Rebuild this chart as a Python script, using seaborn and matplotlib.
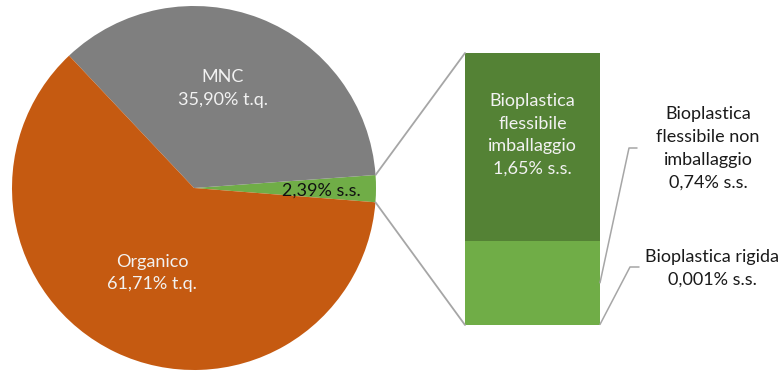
import numpy as np
import matplotlib
matplotlib.use("Agg")
import matplotlib.pyplot as plt
from matplotlib.patches import ConnectionPatch
from matplotlib.lines import Line2D
import seaborn as sns

# Pie: overall composition
pie_labels = ["Bioplastica", "MNC", "Organico"]
pie_values = [2.39, 35.90, 61.71]
pie_texts = ["2,39% s.s.", "MNC\n35,90% t.q.", "Organico\n61,71% t.q."]
pie_colors = ["#70AD47", "#7F7F7F", "#C55A11"]

# Bar: breakdown of the bioplastic share (bottom to top)
bar_labels = ["Bioplastica rigida", "Bioplastica flessibile non imballaggio",
              "Bioplastica flessibile imballaggio"]
bar_values = [0.001, 0.74, 1.65]
bar_texts = ["Bioplastica rigida\n0,001% s.s.",
             "Bioplastica\nflessibile non\nimballaggio\n0,74% s.s.",
             "Bioplastica\nflessibile\nimballaggio\n1,65% s.s."]
bar_colors = ["#A9D18E", "#70AD47", "#548235"]

sns.set_theme(style="white")
plt.rcParams["font.family"] = ["Lato", "DejaVu Sans"]

FS = 13
LS = 1.52

W, H = 782, 372
fig = plt.figure(figsize=(W / 100, H / 100), dpi=100)
fig.patch.set_facecolor("white")

def px_axes(x0, y0, x1, y1):
    """Axes from pixel box (top-left origin)."""
    return fig.add_axes([x0 / W, 1 - y1 / H, (x1 - x0) / W, (y1 - y0) / H])

# ---- pie ----
cx, cy, r = 194, 188, 182
ax_pie = px_axes(cx - r, cy - r, cx + r, cy + r)
green_share = pie_values[0] / sum(pie_values) * 360
wedges, _ = ax_pie.pie(pie_values, colors=pie_colors, startangle=-green_share / 2 - 0.2,
                       counterclock=True, radius=1.0,
                       wedgeprops=dict(linewidth=0))
ax_pie.set_xlim(-1, 1)
ax_pie.set_ylim(-1, 1)
ax_pie.set_aspect("auto")
ax_pie.axis("off")

# label placement (radius fraction, angle offset from wedge middle)
label_pos = [(0.70, -1.0), (0.57, 5.2), (0.52, -0.5)]
label_cols = ["#111111", "#F2F2F2", "#F2F2F2"]
for w, txt, (rf, da), col in zip(wedges, pie_texts, label_pos, label_cols):
    ang = np.deg2rad((w.theta1 + w.theta2) / 2 + da)
    ax_pie.text(rf * np.cos(ang), rf * np.sin(ang), txt, ha="center", va="center",
                color=col, fontsize=FS, linespacing=LS)

# ---- stacked bar ----
ax_bar = px_axes(465, 53, 600, 325)
bottom = 0.0
for val, col in zip(bar_values, bar_colors):
    ax_bar.bar(0, val, width=1.0, bottom=bottom, color=col, linewidth=0)
    bottom += val
total = sum(bar_values)
ax_bar.set_xlim(-0.5, 0.5)
ax_bar.set_ylim(0, total)
ax_bar.axis("off")

ax_bar.text(0, total - bar_values[2] / 2 + 0.105, bar_texts[2], ha="center", va="center",
            color="#F2F2F2", fontsize=FS, linespacing=LS)

# ---- connectors between the green wedge and the bar ----
gw = wedges[0]
line_col = "#A6A6A6"
for theta, ybar in [(gw.theta2, total), (gw.theta1, 0.0)]:
    t = np.deg2rad(theta)
    con = ConnectionPatch(xyA=(np.cos(t), np.sin(t)), coordsA=ax_pie.transData,
                          xyB=(-0.5, ybar), coordsB=ax_bar.transData,
                          color=line_col, lw=1.3)
    fig.add_artist(con)

# ---- leader lines and outside labels ----
def to_px(ax, x, y):
    return ax.transData.transform((x, y))

leaders = [
    (bar_values[0] + bar_values[1] / 2, (629, 148), (637, 148), (708, 148.5), bar_texts[1]),
    (0.005, (630, 267), (639, 267), (712, 268.5), bar_texts[0]),
]
for yv, elbow, end, tpos, txt in leaders:
    sx, sy = to_px(ax_bar, 0.5, yv)
    ex, ey = elbow[0], H - elbow[1]
    fx, fy = end[0], H - end[1]
    fig.add_artist(Line2D([sx, ex, fx], [sy, ey, fy], transform=None,
                          color=line_col, lw=1.1))
    fig.text(tpos[0] / W, 1 - tpos[1] / H, txt, ha="center", va="center",
             color="#1a1a1a", fontsize=FS, linespacing=LS)

fig.savefig("out.png", dpi=100, facecolor="white")
